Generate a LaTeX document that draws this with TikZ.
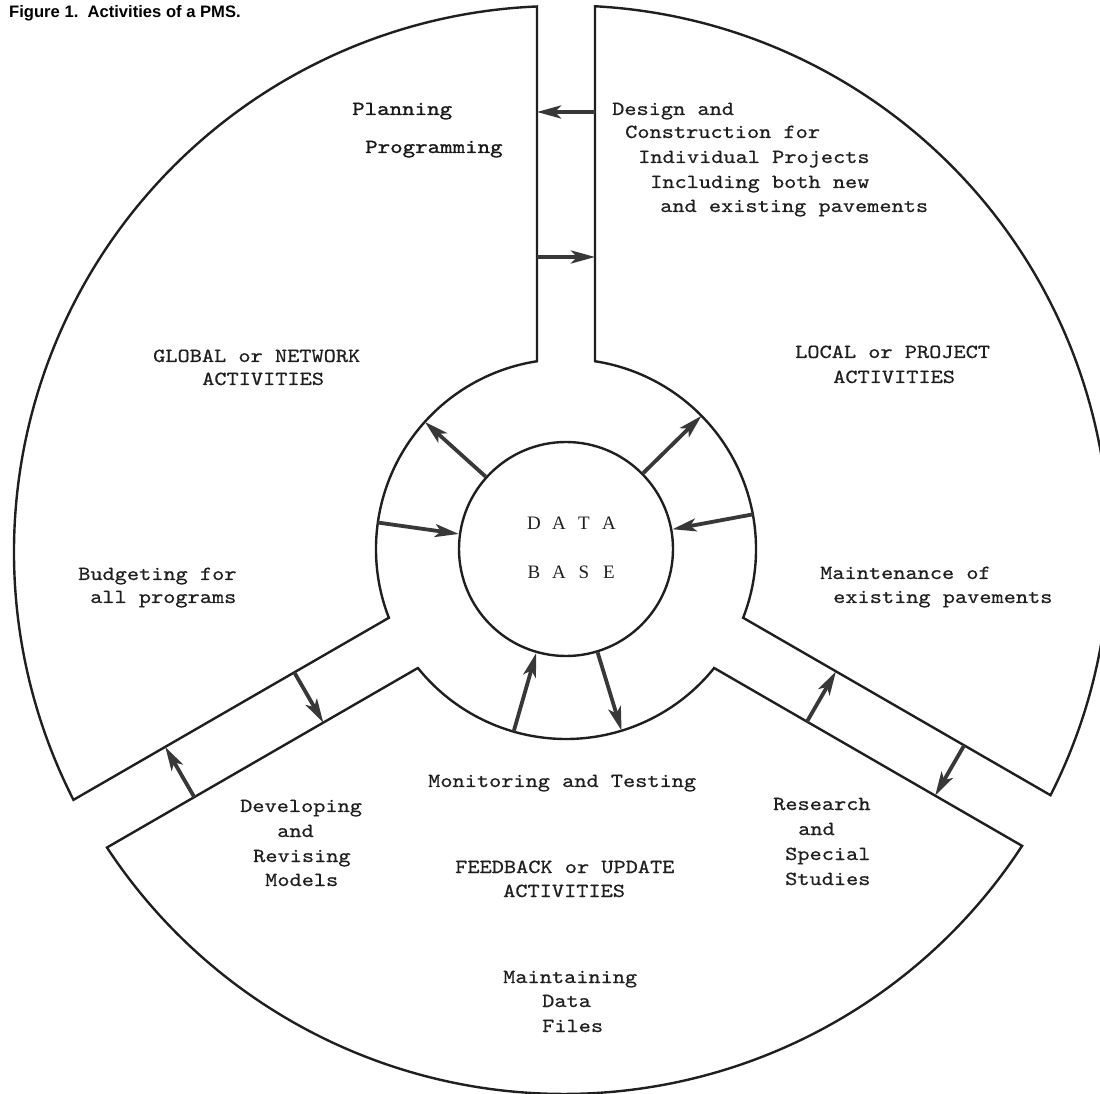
\documentclass[tikz,border=0pt]{standalone}
\usepackage{fontspec}
\setmainfont{Liberation Serif}
\newfontfamily\typew{lmmono10-regular.otf}[FakeStretch=1.16,FakeBold=0.6]
\newfontfamily\typewb{lmmono10-regular.otf}[FakeStretch=1.19,FakeBold=1.2]
\newfontfamily\titlefont{Liberation Sans}
\usetikzlibrary{arrows.meta,calc}
\begin{document}
\begin{tikzpicture}[x=1pt,y=1pt,
  outline/.style={line width=2.4pt, draw=black!88},
  flow/.style={line width=3.8pt, draw=black!78, -{Stealth[length=24pt,width=13pt,inset=6pt]}},
  tw/.style={anchor=base west, inner sep=0pt, font=\typew\fontsize{20}{24}\selectfont, text=black!88},
  twb/.style={anchor=base west, inner sep=0pt, font=\typewb\fontsize{20}{24}\selectfont, text=black!90},
  dbtext/.style={anchor=base, inner sep=0pt, font=\fontsize{19}{21}\selectfont, text=black!88},
]
\useasboundingbox (0,0) rectangle (1100,1093);
\clip (0,0) rectangle (1100,1093);

\node[anchor=base west, inner sep=0pt, font=\titlefont\bfseries\fontsize{16.6}{19}\selectfont] (title) at (9,1075) {Figure 1.\ \ Activities of a PMS.};

\begin{scope}[shift={(566,544)}]
  % sectors
  \draw[outline] (-29,187.8) -- (-29,542.52) arc[start angle=92.41, end angle=207.0, radius=546]
     -- (-177.14,-68.79) arc[start angle=201.22, end angle=98.78, radius=190] -- cycle;
  \draw[outline] (29,187.8) -- (29,542.73) arc[start angle=86.94, end angle=-26.94, radius=543.5]
     -- (177.14,-68.79) arc[start angle=-21.22, end angle=81.22, radius=190] -- cycle;
  \draw[outline] (-148.14,-119.01) -- (-459.04,-298.52) arc[start angle=213.33, end angle=326.88, radius=547]
     -- (148.14,-119.01) arc[start angle=321.22, end angle=218.78, radius=190] -- cycle;
  % data base
  \node[circle, outline, draw, minimum size=214pt, inner sep=0pt] (db) at (0,0) {};
  % ring coordinates
  \coordinate (iUL) at (138:108.2);  \coordinate (mUL) at (138:190);
  \coordinate (iUR) at (44.5:108.2); \coordinate (mUR) at (44.5:190);
  \coordinate (iL)  at (172:108.2);  \coordinate (mL)  at (172:190);
  \coordinate (iR)  at (10.5:108.2); \coordinate (mR)  at (10.5:190);
  \coordinate (iBL) at (254:108.2);  \coordinate (mBL) at (254:190);
  \coordinate (iBR) at (287:108.2);  \coordinate (mBR) at (287:190);
  \draw[flow] (iUL) -- (mUL);
  \draw[flow] (iUR) -- (mUR);
  \draw[flow] (mL) -- (iL);
  \draw[flow] (mR) -- (iR);
  \draw[flow] (mBL) -- (iBL);
  \draw[flow] (iBR) -- (mBR);
  % channel coordinates
  \coordinate (t1r) at (29,437);  \coordinate (t1l) at (-29,437);
  \coordinate (t2l) at (-29,292); \coordinate (t2r) at (29,292);
  \coordinate (l1a) at ($(210:297)+(120:29)$); \coordinate (l1b) at ($(210:297)+(300:29)$);
  \coordinate (l2a) at ($(210:446)+(120:29)$); \coordinate (l2b) at ($(210:446)+(300:29)$);
  \coordinate (r1a) at ($(330:295)+(60:29)$);  \coordinate (r1b) at ($(330:295)+(240:29)$);
  \coordinate (r2a) at ($(330:443)+(60:29)$);  \coordinate (r2b) at ($(330:443)+(240:29)$);
  \draw[flow] (t1r) -- (t1l);
  \draw[flow] (t2l) -- (t2r);
  \draw[flow] (l1a) -- (l1b);
  \draw[flow] (l2b) -- (l2a);
  \draw[flow] (r1b) -- (r1a);
  \draw[flow] (r2a) -- (r2b);
\end{scope}

% DATA BASE text
\node[dbtext] (data) at (571.5,563) {\makebox[25pt]{D}\makebox[25pt]{A}\makebox[25pt]{T}\makebox[25pt]{A}};
\node[dbtext] (base) at (571.5,514) {\makebox[25pt]{B}\makebox[25pt]{A}\makebox[25pt]{S}\makebox[25pt]{E}};

% top left
\node[twb] (plan) at (352,978) {Planning};
\node[twb] (prog) at (365,940) {Programming};
% top right
\node[tw] (des1) at (612,978) {Design and};
\node[tw] (des2) at (625,955) {Construction for};
\node[tw] (des3) at (638,930) {Individual Projects};
\node[tw] (des4) at (650,905) {Including both new};
\node[tw] (des5) at (660,881) {and existing pavements};
% global
\node[tw] (glob1) at (153,731) {GLOBAL or NETWORK};
\node[tw] (glob2) at (202,708) {ACTIVITIES};
\node[tw] (bud1) at (78,513) {Budgeting for};
\node[tw] (bud2) at (90,490) {all programs};
% local
\node[tw] (loc1) at (795,735) {LOCAL or PROJECT};
\node[tw] (loc2) at (833,710) {ACTIVITIES};
\node[tw] (mnt1) at (820,514) {Maintenance of};
\node[tw] (mnt2) at (833,490) {existing pavements};
% feedback
\node[tw] (mon) at (428,306) {Monitoring and Testing};
\node[tw] (dev1) at (240,281) {Developing};
\node[tw] (dev2) at (277,256) {and};
\node[tw] (dev3) at (253,231) {Revising};
\node[tw] (dev4) at (265,207) {Models};
\node[tw] (res1) at (773,283) {Research};
\node[tw] (res2) at (798,258) {and};
\node[tw] (res3) at (785,233) {Special};
\node[tw] (res4) at (785,208) {Studies};
\node[tw] (fb1) at (455,220) {FEEDBACK or UPDATE};
\node[tw] (fb2) at (503,196) {ACTIVITIES};
\node[tw] (mdf1) at (503,110) {Maintaining};
\node[tw] (mdf2) at (542,86) {Data};
\node[tw] (mdf3) at (542,61) {Files};
\end{tikzpicture}
\end{document}
